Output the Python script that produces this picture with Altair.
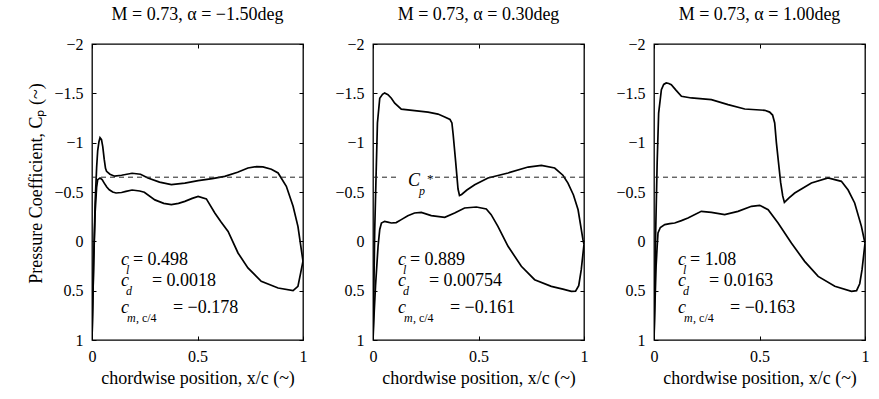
import altair as alt
import pandas as pd

FONT = "Liberation Serif"

titles = ["M    = 0.73, α = −1.50deg", "M    = 0.73, α = 0.30deg", "M    = 0.73, α = 1.00deg"]
cl_vals = ["= 0.498", "= 0.889", "= 1.08"]
cd_vals = ["= 0.0018", "= 0.00754", "= 0.0163"]
cm_vals = ["= −0.178", "= −0.161", "= −0.163"]
cp_star = -0.65
ann_x = [0.137, 0.118, 0.114]
ann_y = [0.240, 0.453, 0.726]
star_label = {"x": 0.166, "y": -0.561}
star_gap = [0.122, 0.294]

x_ticks = [0, 0.5, 1]
y_ticks = [-2, -1.5, -1, -0.5, 0, 0.5, 1]

# panel 1 (alpha = -1.50)
p1u_x = [0.000, 0.004, 0.008, 0.015, 0.022, 0.027, 0.033, 0.038, 0.045, 0.051, 0.058, 0.064, 0.069, 0.085, 0.107, 0.140, 0.190, 0.230, 0.265, 0.320, 0.376, 0.440, 0.503, 0.570, 0.629, 0.690, 0.739, 0.780, 0.810, 0.850, 0.882, 0.921, 0.953, 0.976, 0.992, 1.000]
p1u_cp = [1.00, 0.60, 0.20, -0.40, -0.75, -0.92, -1.01, -1.05, -1.03, -0.96, -0.83, -0.74, -0.71, -0.68, -0.66, -0.67, -0.69, -0.68, -0.642, -0.60, -0.574, -0.59, -0.615, -0.635, -0.659, -0.70, -0.743, -0.757, -0.755, -0.73, -0.693, -0.558, -0.355, -0.152, 0.085, 0.20]
p1l_x = [0.000, 0.004, 0.008, 0.015, 0.022, 0.027, 0.038, 0.048, 0.058, 0.070, 0.082, 0.098, 0.114, 0.140, 0.161, 0.190, 0.226, 0.248, 0.298, 0.340, 0.376, 0.410, 0.440, 0.475, 0.503, 0.542, 0.582, 0.610, 0.645, 0.692, 0.739, 0.802, 0.882, 0.953, 0.976, 0.989, 1.000]
p1l_cp = [1.00, 0.60, 0.20, -0.30, -0.55, -0.625, -0.642, -0.625, -0.59, -0.55, -0.523, -0.50, -0.49, -0.495, -0.507, -0.52, -0.51, -0.497, -0.42, -0.385, -0.372, -0.385, -0.405, -0.435, -0.456, -0.43, -0.287, -0.20, -0.10, 0.118, 0.27, 0.405, 0.473, 0.50, 0.456, 0.32, 0.20]

# panel 2 (alpha = 0.30)
p2u_x = [0.000, 0.004, 0.008, 0.015, 0.021, 0.032, 0.045, 0.055, 0.071, 0.087, 0.103, 0.134, 0.197, 0.261, 0.308, 0.340, 0.365, 0.374, 0.380, 0.392, 0.403, 0.410, 0.420, 0.445, 0.482, 0.545, 0.640, 0.735, 0.798, 0.861, 0.900, 0.924, 0.950, 0.972, 0.995, 1.000]
p2u_cp = [1.00, 0.50, -0.10, -0.70, -1.20, -1.45, -1.49, -1.503, -1.486, -1.45, -1.40, -1.34, -1.325, -1.31, -1.29, -1.26, -1.235, -1.20, -1.08, -0.80, -0.53, -0.465, -0.475, -0.52, -0.574, -0.642, -0.693, -0.753, -0.77, -0.743, -0.67, -0.59, -0.47, -0.32, -0.017, 0.03]
p2l_x = [0.000, 0.006, 0.012, 0.024, 0.032, 0.040, 0.055, 0.070, 0.087, 0.110, 0.134, 0.165, 0.197, 0.229, 0.276, 0.340, 0.387, 0.434, 0.490, 0.537, 0.560, 0.592, 0.640, 0.703, 0.766, 0.845, 0.900, 0.940, 0.960, 0.975, 0.987, 1.000]
p2l_cp = [1.00, 0.70, 0.45, 0.05, -0.12, -0.186, -0.203, -0.195, -0.186, -0.19, -0.22, -0.26, -0.287, -0.294, -0.26, -0.243, -0.287, -0.338, -0.348, -0.328, -0.27, -0.152, 0.05, 0.253, 0.389, 0.456, 0.485, 0.507, 0.505, 0.45, 0.287, 0.03]

# panel 3 (alpha = 1.00)
p3u_x = [0.000, 0.004, 0.008, 0.015, 0.022, 0.035, 0.046, 0.058, 0.070, 0.082, 0.105, 0.130, 0.177, 0.272, 0.351, 0.430, 0.525, 0.548, 0.562, 0.572, 0.580, 0.590, 0.600, 0.610, 0.618, 0.640, 0.667, 0.746, 0.825, 0.888, 0.920, 0.951, 0.983, 1.000]
p3u_cp = [1.00, 0.50, -0.10, -0.80, -1.30, -1.537, -1.59, -1.605, -1.60, -1.588, -1.53, -1.47, -1.453, -1.436, -1.385, -1.341, -1.328, -1.31, -1.28, -1.20, -1.00, -0.80, -0.60, -0.46, -0.395, -0.44, -0.49, -0.591, -0.642, -0.608, -0.52, -0.389, -0.152, 0.02]
p3l_x = [0.000, 0.005, 0.010, 0.015, 0.019, 0.030, 0.051, 0.075, 0.098, 0.130, 0.161, 0.224, 0.272, 0.335, 0.398, 0.462, 0.501, 0.541, 0.588, 0.651, 0.714, 0.778, 0.857, 0.936, 0.960, 0.975, 0.986, 1.000]
p3l_cp = [1.00, 0.60, 0.25, 0.05, -0.085, -0.14, -0.169, -0.18, -0.186, -0.21, -0.236, -0.304, -0.294, -0.27, -0.304, -0.355, -0.365, -0.321, -0.186, 0.017, 0.203, 0.355, 0.456, 0.507, 0.50, 0.43, 0.287, 0.02]

curves = [
    ((p1u_x, p1u_cp), (p1l_x, p1l_cp)),
    ((p2u_x, p2u_cp), (p2l_x, p2l_cp)),
    ((p3u_x, p3u_cp), (p3l_x, p3l_cp)),
]

xs = alt.Scale(domain=[0, 1], nice=False, zero=False)
ys = alt.Scale(domain=[-2, 1], reverse=True, nice=False, zero=False)

TICK = 4
BIG = 18
SMALL = 12


def tick_axis(orient, vals):
    return alt.Axis(orient=orient, values=vals, labels=False, domain=False, grid=False,
                    ticks=True, tickSize=TICK, offset=-TICK, title=None,
                    tickColor="black", tickWidth=1)


def text_layer(x, y, s, italic, size, dx=0, dy=0):
    d = pd.DataFrame({"x": [x], "y": [y], "t": [s]})
    return alt.Chart(d).mark_text(
        font=FONT, fontSize=size, fontStyle="italic" if italic else "normal",
        align="left", baseline="alphabetic", dx=dx, dy=dy, color="black"
    ).encode(
        x=alt.X("x:Q", scale=xs, axis=None),
        y=alt.Y("y:Q", scale=ys, axis=None),
        text="t:N",
    )


def panel(i):
    (ux, ucp), (lx, lcp) = curves[i]
    df = pd.concat([
        pd.DataFrame({"x": ux, "cp": ucp, "surface": "upper", "idx": range(len(ux))}),
        pd.DataFrame({"x": lx, "cp": lcp, "surface": "lower", "idx": range(len(lx))}),
    ])
    y_axis_kw = dict(orient="left", values=y_ticks, format="~g", ticks=False, tickSize=0,
                     domain=False, grid=False, labelPadding=9, labelOverlap=False,
                     labelFlush=False)
    if i == 0:
        y_axis_kw.update(title="Pressure Coefficient, Cₚ (~)", titlePadding=8, titleY=139)
    else:
        y_axis_kw.update(title=None)
    lines = alt.Chart(df).mark_line(color="black", strokeWidth=1.7, clip=True).encode(
        x=alt.X("x:Q", scale=xs, axis=alt.Axis(
            orient="bottom", values=x_ticks, format="~g", ticks=False, tickSize=0,
            domain=False, grid=False, labelPadding=8, labelFlush=False, labelOverlap=False,
            title="chordwise position, x/c (~)", titlePadding=5)),
        y=alt.Y("cp:Q", scale=ys, axis=alt.Axis(**y_axis_kw)),
        detail="surface:N",
        order="idx:Q",
    )
    if i == 1:
        dash_df = pd.DataFrame({"x": [0, star_gap[0], star_gap[1], 1],
                                "cp": [cp_star] * 4, "seg": ["a", "a", "b", "b"]})
    else:
        dash_df = pd.DataFrame({"x": [0, 1], "cp": [cp_star] * 2, "seg": ["a", "a"]})
    dash = alt.Chart(dash_df).mark_line(color="#222222", strokeWidth=1, strokeDash=[5, 4]).encode(
        x=alt.X("x:Q", scale=xs, axis=tick_axis("bottom", x_ticks)),
        y=alt.Y("cp:Q", scale=ys, axis=tick_axis("left", y_ticks)),
        detail="seg:N",
    )
    ghost = alt.Chart(dash_df).mark_point(opacity=0).encode(
        x=alt.X("x:Q", scale=xs, axis=tick_axis("top", x_ticks)),
        y=alt.Y("cp:Q", scale=ys, axis=tick_axis("right", y_ticks)),
    )
    ax = ann_x[i]
    texts = [
        text_layer(ax, ann_y[0], "c", True, BIG),
        text_layer(ax, ann_y[0], "l", True, SMALL, dx=5, dy=9),
        text_layer(ax, ann_y[0], cl_vals[i], False, BIG, dx=12),
        text_layer(ax, ann_y[1], "c", True, BIG),
        text_layer(ax, ann_y[1], "d", True, SMALL, dx=5, dy=9),
        text_layer(ax, ann_y[1], cd_vals[i], False, BIG, dx=31),
        text_layer(ax, ann_y[2], "c", True, BIG),
        text_layer(ax, ann_y[2], "m", True, SMALL, dx=6, dy=9),
        text_layer(ax, ann_y[2], ", c/4", False, SMALL, dx=15, dy=9),
        text_layer(ax, ann_y[2], cm_vals[i], False, BIG, dx=52),
    ]
    if i == 1:
        texts += [
            text_layer(star_label["x"], star_label["y"], "C", True, BIG),
            text_layer(star_label["x"], star_label["y"], "p", True, SMALL, dx=11, dy=9),
            text_layer(star_label["x"], star_label["y"], "*", False, 13, dx=19, dy=-3),
        ]
    return alt.layer(lines, dash, ghost, *texts).resolve_axis(
        x="independent", y="independent"
    ).properties(
        width=211, height=296,
        title=alt.TitleParams(titles[i], font=FONT, fontSize=BIG, fontWeight="normal",
                              color="black", offset=12, anchor="middle"),
    )


chart = alt.hconcat(panel(0), panel(1), panel(2), spacing=70, bounds="flush").properties(
    padding={"left": 27, "top": 5, "right": 5, "bottom": 5},
    background="white",
).configure_view(stroke="black", strokeWidth=1.3).configure_axis(
    labelFont=FONT, labelFontSize=16, labelColor="black",
    titleFont=FONT, titleFontSize=BIG, titleFontWeight="normal", titleColor="black",
)

chart.save("out.html", embed_options={"renderer": "svg", "actions": False})
